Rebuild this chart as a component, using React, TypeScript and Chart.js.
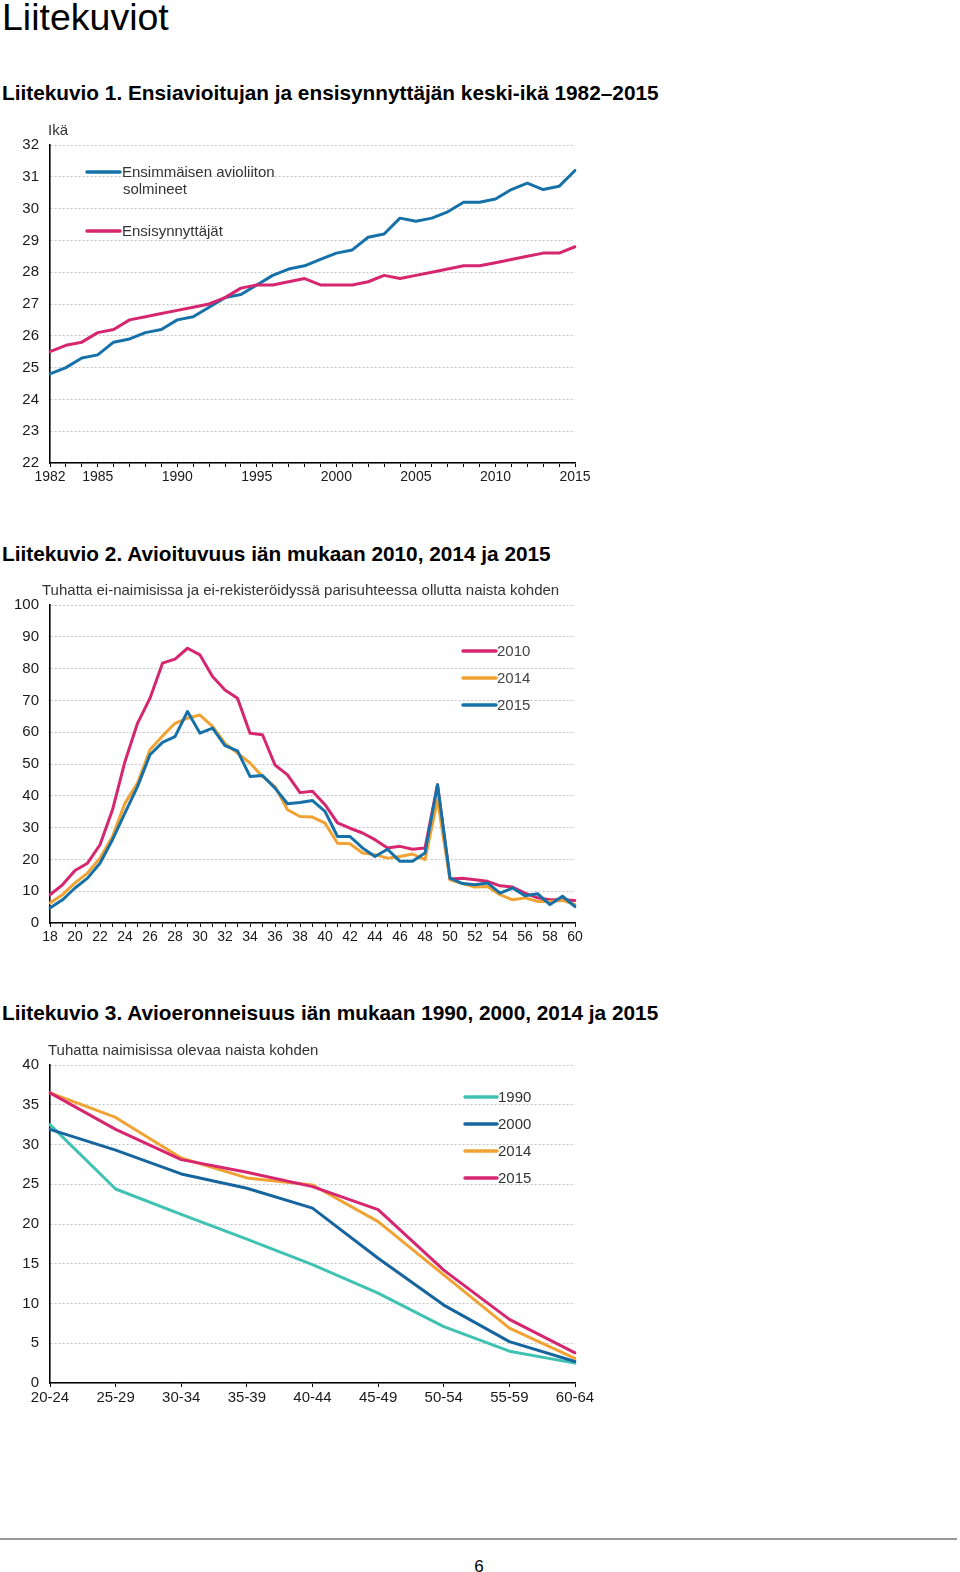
import React, { useEffect, useRef } from 'react';
import { Chart, registerables } from 'chart.js';

Chart.register(...registerables);

const FONT = "'Liberation Sans', Arial, Helvetica, sans-serif";

// ---------- Chart 1: average age 1982–2015 ----------
const years = [
  '1982', '1983', '1984', '1985', '1986', '1987', '1988', '1989', '1990', '1991', '1992', '1993',
  '1994', '1995', '1996', '1997', '1998', '1999', '2000', '2001', '2002', '2003', '2004', '2005',
  '2006', '2007', '2008', '2009', '2010', '2011', '2012', '2013', '2014', '2015',
];
const yearLabelsShown = ['1982', '1985', '1990', '1995', '2000', '2005', '2010', '2015'];
const firstMarriageAge = [
  24.8, 25.0, 25.3, 25.4, 25.8, 25.9, 26.1, 26.2, 26.5, 26.6, 26.9, 27.2,
  27.3, 27.6, 27.9, 28.1, 28.2, 28.4, 28.6, 28.7, 29.1, 29.2, 29.7, 29.6,
  29.7, 29.9, 30.2, 30.2, 30.3, 30.6, 30.8, 30.6, 30.7, 31.2,
];
const firstBirthAge = [
  25.5, 25.7, 25.8, 26.1, 26.2, 26.5, 26.6, 26.7, 26.8, 26.9, 27.0, 27.2,
  27.5, 27.6, 27.6, 27.7, 27.8, 27.6, 27.6, 27.6, 27.7, 27.9, 27.8, 27.9,
  28.0, 28.1, 28.2, 28.2, 28.3, 28.4, 28.5, 28.6, 28.6, 28.8,
];
const chart1Series = ['Ensimmäisen avioliiton', 'solmineet', 'Ensisynnyttäjät'];

// ---------- Chart 2: marriage rate by age ----------
const ages = [
  '18', '19', '20', '21', '22', '23', '24', '25', '26', '27', '28', '29', '30', '31', '32',
  '33', '34', '35', '36', '37', '38', '39', '40', '41', '42', '43', '44', '45', '46', '47',
  '48', '49', '50', '51', '52', '53', '54', '55', '56', '57', '58', '59', '60',
];
const agesShown = [
  '18', '20', '22', '24', '26', '28', '30', '32', '34', '36', '38', '40', '42', '44', '46',
  '48', '50', '52', '54', '56', '58', '60',
];
const marriage2010 = [
  8.9, 12.0, 16.5, 18.8, 24.6, 35.6, 50.8, 62.8, 70.7, 81.7, 83.0, 86.4, 84.3, 77.5, 73.3,
  70.7, 59.7, 59.2, 49.7, 46.6, 41.0, 41.4, 37.2, 31.5, 29.8, 28.3, 26.2, 23.6, 24.1, 23.2,
  23.6, 43.5, 13.8, 14.1, 13.6, 13.1, 11.7, 11.3, 9.4, 7.9, 7.3, 7.3, 7.1,
];
const marriage2014 = [
  6.3, 8.9, 12.6, 15.7, 20.4, 27.2, 37.7, 44.0, 54.5, 58.8, 62.8, 64.4, 65.4, 61.8, 56.5,
  53.4, 50.3, 46.1, 42.9, 35.6, 33.5, 33.3, 31.4, 25.1, 24.9, 22.0, 21.5, 20.4, 20.9, 21.7,
  19.9, 38.7, 13.6, 12.4, 11.3, 11.5, 8.9, 7.3, 7.9, 6.8, 6.8, 7.1, 5.8,
];
const marriage2015 = [
  4.7, 7.3, 11.0, 14.1, 18.8, 26.2, 34.6, 42.9, 52.9, 56.8, 58.6, 66.5, 59.7, 61.3, 55.8,
  54.1, 46.1, 46.4, 42.4, 37.5, 37.9, 38.5, 35.1, 27.2, 27.2, 23.6, 20.9, 23.2, 19.4, 19.4,
  22.0, 43.5, 14.1, 12.4, 12.0, 12.6, 9.4, 11.0, 8.6, 9.2, 5.8, 8.4, 5.2,
];
const chart2Series = ['2010', '2014', '2015'];

// ---------- Chart 3: divorce rate by age group ----------
const ageGroups = ['20-24', '25-29', '30-34', '35-39', '40-44', '45-49', '50-54', '55-59', '60-64'];
const divorce1990 = [32.5, 24.4, 21.2, 18.1, 14.9, 11.3, 7.1, 4.0, 2.5];
const divorce2000 = [31.9, 29.3, 26.3, 24.5, 22.0, 15.7, 9.8, 5.2, 2.7];
const divorce2014 = [36.5, 33.4, 28.3, 25.8, 24.9, 20.3, 13.6, 6.9, 3.1];
const divorce2015 = [36.5, 31.9, 28.1, 26.5, 24.7, 21.8, 14.2, 8.0, 3.8];
const chart3Series = ['1990', '2000', '2014', '2015'];

const BLUE = '#1671a8';
const DARKBLUE = '#17659e';
const PINK = '#d6266f';
const ORANGE = '#f0a232';
const TEAL = '#40c2b2';

type Ov =
  | { t: 'text'; s: string; x: number; y: number; size?: number; color?: string; maxW?: number }
  | { t: 'line'; x1: number; x2: number; y: number; color: string; w?: number };

const overlay = (items: Ov[]) => ({
  id: 'overlay',
  afterDraw(chart: any) {
    const c = chart.ctx as CanvasRenderingContext2D;
    c.save();
    for (const it of items) {
      if (it.t === 'line') {
        c.strokeStyle = it.color;
        c.lineWidth = it.w ?? 3.5;
        c.lineCap = 'round';
        c.beginPath();
        c.moveTo(it.x1, it.y);
        c.lineTo(it.x2, it.y);
        c.stroke();
      } else {
        c.fillStyle = it.color ?? '#333';
        c.font = `${it.size ?? 15}px ${FONT}`;
        c.textAlign = 'left';
        c.textBaseline = 'alphabetic';
        if (it.maxW) c.fillText(it.s, it.x, it.y, it.maxW);
        else c.fillText(it.s, it.x, it.y);
      }
    }
    c.restore();
  },
});

function yScale(min: number, max: number, step: number) {
  return {
    min,
    max,
    ticks: { stepSize: step, color: '#1a1a1a', font: { size: 15, family: FONT }, padding: 11 },
    grid: { color: '#c4c4c4', lineWidth: 1, drawTicks: false },
    border: { display: true, color: '#000', width: 1.6, dash: [2, 2] },
    afterFit: (s: any) => {
      s.width = 50;
    },
  };
}

function xScale(shown: string[], size: number) {
  return {
    type: 'category',
    offset: false,
    ticks: {
      autoSkip: false,
      maxRotation: 0,
      minRotation: 0,
      color: '#1a1a1a',
      font: { size, family: FONT },
      padding: 2,
      callback: function (this: any, v: any) {
        const l = this.getLabelForValue(v);
        return shown.includes(l) ? l : '';
      },
    },
    grid: { drawOnChartArea: false, drawTicks: true, tickLength: 4, color: '#000', tickColor: '#000' },
    border: { display: true, color: '#000', width: 1.6 },
    afterFit: (s: any) => {
      s.height = 27;
    },
  };
}

function line(label: string, data: number[], color: string, order: number) {
  return {
    label,
    data,
    borderColor: color,
    backgroundColor: color,
    borderWidth: 3,
    pointRadius: 0,
    pointHoverRadius: 0,
    tension: 0,
    fill: false,
    order,
    borderJoinStyle: 'round',
    borderCapStyle: 'round',
  };
}

function baseOptions(x: any, y: any) {
  return {
    responsive: false,
    animation: false,
    layout: { padding: { top: 25, right: 25, left: 0, bottom: 0 } },
    plugins: { legend: { display: false }, tooltip: { enabled: false } },
    events: [],
    scales: { x, y },
  };
}

function ChartCanvas({ top, build }: { top: number; build: () => any }) {
  const ref = useRef<HTMLCanvasElement>(null);
  useEffect(() => {
    const chart = new Chart(ref.current as HTMLCanvasElement, build());
    return () => chart.destroy();
  }, []);
  return (
    <canvas
      ref={ref}
      width={600}
      height={370}
      style={{ position: 'absolute', left: 0, top, width: 600, height: 370 }}
    />
  );
}

const build1 = () => ({
  type: 'line',
  data: {
    labels: years,
    datasets: [
      line(chart1Series[0], firstMarriageAge, BLUE, 1),
      line(chart1Series[2], firstBirthAge, PINK, 0),
    ],
  },
  options: baseOptions(xScale(yearLabelsShown, 14), yScale(22, 32, 1)),
  plugins: [
    overlay([
      { t: 'text', s: 'Ikä', x: 48, y: 15, size: 15, color: '#333', maxW: 20 },
      { t: 'line', x1: 87, x2: 120, y: 52, color: BLUE },
      { t: 'text', s: chart1Series[0], x: 122, y: 57, color: '#333', maxW: 153 },
      { t: 'text', s: chart1Series[1], x: 123, y: 74, color: '#333', maxW: 64 },
      { t: 'line', x1: 87, x2: 120, y: 111, color: PINK },
      { t: 'text', s: chart1Series[2], x: 122, y: 116, color: '#333', maxW: 101 },
    ]),
  ],
});

const build2 = () => ({
  type: 'line',
  data: {
    labels: ages,
    datasets: [
      line(chart2Series[0], marriage2010, PINK, 2),
      line(chart2Series[1], marriage2014, ORANGE, 1),
      line(chart2Series[2], marriage2015, BLUE, 0),
    ],
  },
  options: baseOptions(xScale(agesShown, 14), yScale(0, 100, 10)),
  plugins: [
    overlay([
      {
        t: 'text',
        s: 'Tuhatta ei-naimisissa ja ei-rekisteröidyssä parisuhteessa ollutta naista kohden',
        x: 42,
        y: 15,
        color: '#333',
        maxW: 519,
      },
      { t: 'line', x1: 463, x2: 496, y: 71, color: PINK },
      { t: 'text', s: chart2Series[0], x: 497, y: 76, color: '#444' },
      { t: 'line', x1: 463, x2: 496, y: 98, color: ORANGE },
      { t: 'text', s: chart2Series[1], x: 497, y: 103, color: '#444' },
      { t: 'line', x1: 463, x2: 496, y: 125, color: BLUE },
      { t: 'text', s: chart2Series[2], x: 497, y: 130, color: '#444' },
    ]),
  ],
});

const build3 = () => ({
  type: 'line',
  data: {
    labels: ageGroups,
    datasets: [
      line(chart3Series[0], divorce1990, TEAL, 3),
      line(chart3Series[1], divorce2000, DARKBLUE, 2),
      line(chart3Series[2], divorce2014, ORANGE, 1),
      line(chart3Series[3], divorce2015, PINK, 0),
    ],
  },
  options: baseOptions(xScale(ageGroups, 15), yScale(0, 40, 5)),
  plugins: [
    overlay([
      { t: 'text', s: 'Tuhatta naimisissa olevaa naista kohden', x: 48, y: 15, color: '#333', maxW: 274 },
      { t: 'line', x1: 465, x2: 497, y: 57, color: TEAL },
      { t: 'text', s: chart3Series[0], x: 498, y: 62, color: '#333' },
      { t: 'line', x1: 465, x2: 497, y: 84, color: DARKBLUE },
      { t: 'text', s: chart3Series[1], x: 498, y: 89, color: '#333' },
      { t: 'line', x1: 465, x2: 497, y: 111, color: ORANGE },
      { t: 'text', s: chart3Series[2], x: 498, y: 116, color: '#333' },
      { t: 'line', x1: 465, x2: 497, y: 138, color: PINK },
      { t: 'text', s: chart3Series[3], x: 498, y: 143, color: '#333' },
    ]),
  ],
});

function Heading({ text, top, size, bold }: { text: string; top: number; size: number; bold?: boolean }) {
  return (
    <div
      style={{
        position: 'absolute',
        left: 2,
        top,
        fontFamily: FONT,
        fontSize: size,
        lineHeight: `${size}px`,
        fontWeight: bold ? 700 : 400,
        color: '#000',
        whiteSpace: 'nowrap',
      }}
    >
      {text}
    </div>
  );
}

export default function App() {
  return (
    <div
      style={{
        position: 'absolute',
        left: 0,
        top: 0,
        width: 960,
        height: 1572,
        overflow: 'hidden',
        background: '#fff',
      }}
    >
      <Heading text="Liitekuviot" top={-1} size={37.5} />
      <Heading text="Liitekuvio 1. Ensiavioitujan ja ensisynnyttäjän keski-ikä 1982–2015" top={83.4} size={20.8} bold />
      <Heading text="Liitekuvio 2. Avioituvuus iän mukaan 2010, 2014 ja 2015" top={544.4} size={20.8} bold />
      <Heading text="Liitekuvio 3. Avioeronneisuus iän mukaan 1990, 2000, 2014 ja 2015" top={1003.4} size={20.8} bold />
      <ChartCanvas top={120} build={build1} />
      <ChartCanvas top={580} build={build2} />
      <ChartCanvas top={1040} build={build3} />
      <div style={{ position: 'absolute', left: 0, top: 1538, width: 957, height: 2, background: '#999' }} />
      <div
        style={{
          position: 'absolute',
          left: 0,
          width: 958,
          top: 1558,
          textAlign: 'center',
          fontFamily: FONT,
          fontSize: 17,
          lineHeight: '17px',
          color: '#000',
        }}
      >
        6
      </div>
    </div>
  );
}
